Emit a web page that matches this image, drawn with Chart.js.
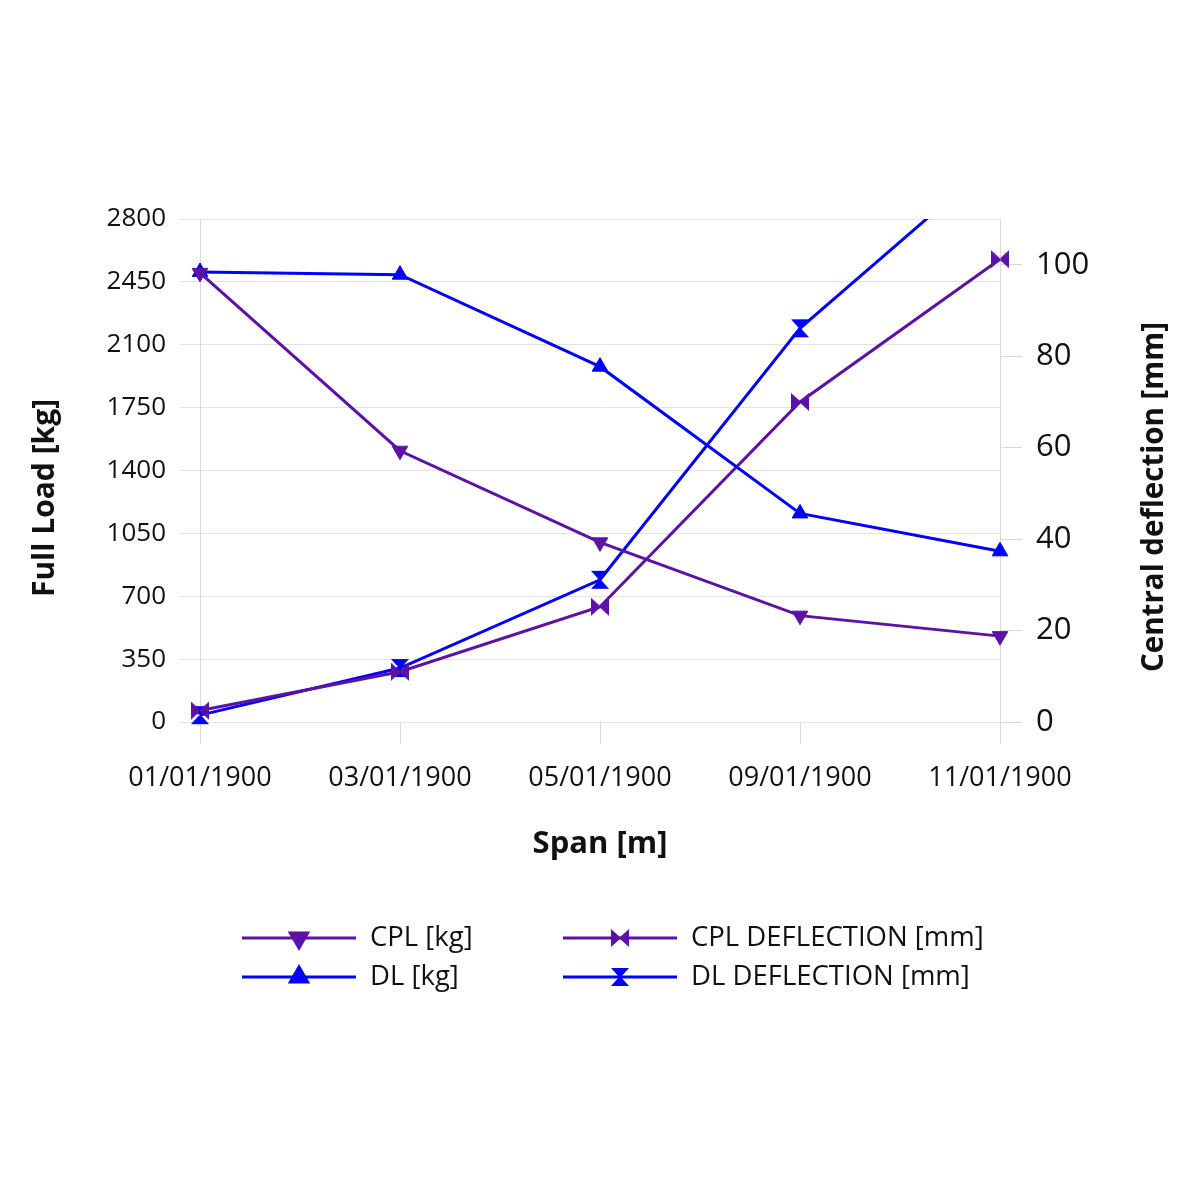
<!DOCTYPE html>
<html>
<head>
<meta charset="utf-8">
<script src="https://cdn.jsdelivr.net/npm/chart.js@4/dist/chart.umd.min.js"></script>
<style>
html,body{margin:0;padding:0;background:#fff;}
#wrap{width:1200px;height:1200px;position:relative;}
</style>
</head>
<body>
<div id="wrap"><canvas id="c" width="1200" height="1200"></canvas></div>
<script>
const categories = ["01/01/1900", "03/01/1900", "05/01/1900", "09/01/1900", "11/01/1900"];
const cplKg = [2500, 1510, 1000, 592, 478];
const dlKg = [2505, 2490, 1978, 1161, 950];
const cplDefl = [2.5, 11.0, 25.2, 70.0, 101.2];
const dlDefl = [1.5, 11.8, 31.1, 86.1, 123.9];
const leftTicks = [0, 350, 700, 1050, 1400, 1750, 2100, 2450, 2800];
const rightTicks = [0, 20, 40, 60, 80, 100];
const xTitle = 'Span [m]';
const leftTitle = 'Full Load [kg]';
const rightTitle = 'Central deflection [mm]';

const PURPLE = '#5c12a6';
const BLUE = '#0000ff';
const FONT = "'Open Sans', 'Noto Sans', sans-serif";

function makeMarker(color, kind) {
  const s = 22;
  const cv = document.createElement('canvas');
  cv.width = s; cv.height = s;
  const g = cv.getContext('2d');
  g.fillStyle = color;
  g.beginPath();
  const c = s / 2;
  if (kind === 'bowtie') {
    g.moveTo(2, 2); g.lineTo(c + 1, c); g.lineTo(2, s - 2); g.closePath();
    g.moveTo(s - 2, 2); g.lineTo(c - 1, c); g.lineTo(s - 2, s - 2); g.closePath();
  } else {
    g.moveTo(2, 2); g.lineTo(s - 2, 2); g.lineTo(c, c + 1); g.closePath();
    g.moveTo(2, s - 2); g.lineTo(s - 2, s - 2); g.lineTo(c, c - 1); g.closePath();
  }
  g.fill();
  return cv;
}
const bowtie = makeMarker(PURPLE, 'bowtie');
const hourglass = makeMarker(BLUE, 'hourglass');

const extrasPlugin = {
  id: 'extras',
  afterDraw(chart) {
    const ctx = chart.ctx;
    ctx.save();
    // vertical axis titles
    ctx.fillStyle = '#111';
    ctx.textAlign = 'center';
    ctx.textBaseline = 'middle';
    ctx.font = "bold 30px " + FONT;
    ctx.save(); ctx.translate(45, 498); ctx.rotate(-Math.PI / 2); ctx.fillText(leftTitle, 0, 0); ctx.restore();
    ctx.font = "bold 29.5px " + FONT;
    ctx.save(); ctx.translate(1155, 497); ctx.rotate(-Math.PI / 2); ctx.fillText(rightTitle, 0, 0); ctx.restore();
    // legend
    const items = [
      {ds: 0, x: 242, y: 938},
      {ds: 2, x: 563, y: 938},
      {ds: 1, x: 242, y: 977},
      {ds: 3, x: 563, y: 977}
    ];
    items.forEach(it => {
      const d = chart.data.datasets[it.ds];
      ctx.strokeStyle = d.borderColor;
      ctx.lineWidth = 3;
      ctx.beginPath();
      ctx.moveTo(it.x, it.y);
      ctx.lineTo(it.x + 114, it.y);
      ctx.stroke();
      ctx.fillStyle = d.borderColor;
      ctx.strokeStyle = d.borderColor;
      Chart.helpers.drawPoint(ctx, {
        pointStyle: d.pointStyle,
        radius: 10,
        rotation: d.pointRotation || 0,
        borderWidth: 1
      }, it.x + 57, it.y);
      ctx.fillStyle = '#111';
      ctx.font = "27.5px " + FONT;
      ctx.textBaseline = 'middle';
      ctx.textAlign = 'left';
      ctx.fillText(d.label, it.x + 128, it.y);
    });
    ctx.restore();
  }
};

const chart = new Chart(document.getElementById('c'), {
  type: 'line',
  data: {
    labels: categories,
    datasets: [
      {
        label: 'CPL [kg]', data: cplKg, yAxisID: 'y',
        borderColor: PURPLE, backgroundColor: PURPLE, borderWidth: 3,
        pointStyle: 'triangle', pointRotation: 180, pointRadius: 9,
        pointBorderWidth: 1, pointBorderColor: PURPLE, pointBackgroundColor: PURPLE,
        tension: 0
      },
      {
        label: 'DL [kg]', data: dlKg, yAxisID: 'y',
        borderColor: BLUE, backgroundColor: BLUE, borderWidth: 3,
        pointStyle: 'triangle', pointRotation: 0, pointRadius: 9,
        pointBorderWidth: 1, pointBorderColor: BLUE, pointBackgroundColor: BLUE,
        tension: 0
      },
      {
        label: 'CPL DEFLECTION [mm]', data: cplDefl, yAxisID: 'y1',
        borderColor: PURPLE, backgroundColor: PURPLE, borderWidth: 3,
        pointStyle: bowtie, pointRadius: 10,
        tension: 0
      },
      {
        label: 'DL DEFLECTION [mm]', data: dlDefl, yAxisID: 'y1',
        borderColor: BLUE, backgroundColor: BLUE, borderWidth: 3,
        pointStyle: hourglass, pointRadius: 10,
        tension: 0,
        clip: {left: false, right: false, top: 0, bottom: false}
      }
    ]
  },
  options: {
    responsive: false,
    animation: false,
    layout: {padding: {top: 219, left: 20, right: 20, bottom: 328}},
    plugins: {legend: {display: false}, tooltip: {enabled: false}},
    elements: {line: {borderWidth: 3}},
    scales: {
      x: {
        type: 'category',
        offset: false,
        afterFit(s) { s.height = 150; },
        grid: {drawOnChartArea: false, drawTicks: true, tickLength: 22, color: '#d9d9d9', lineWidth: 1},
        border: {display: false},
        ticks: {font: {family: FONT, size: 27}, color: '#111', padding: 18, maxRotation: 0, autoSkip: false},
        title: {display: true, text: xTitle, font: {family: FONT, size: 31, weight: 'bold'}, color: '#111', padding: {top: 0, bottom: 9}}
      },
      y: {
        position: 'left',
        min: 0, max: 2800,
        afterFit(s) { s.width = 180; },
        afterBuildTicks(s) { s.ticks = leftTicks.map(v => ({value: v})); },
        grid: {color: '#e3e3e3', lineWidth: 1, tickLength: 20, drawTicks: true},
        border: {display: true, color: '#d9d9d9', width: 1},
        ticks: {font: {family: FONT, size: 26}, color: '#111', padding: 14, callback: v => String(v)}
      },
      y1: {
        position: 'right',
        min: 0, max: 110,
        afterFit(s) { s.width = 180; },
        afterBuildTicks(s) { s.ticks = rightTicks.map(v => ({value: v})); },
        grid: {drawOnChartArea: false, drawTicks: true, tickLength: 22, color: '#d9d9d9'},
        border: {display: true, color: '#d9d9d9', width: 1},
        ticks: {font: {family: FONT, size: 31}, color: '#111', padding: 14, callback: v => String(v)}
      }
    }
  },
  plugins: [extrasPlugin]
});
</script>
</body>
</html>
